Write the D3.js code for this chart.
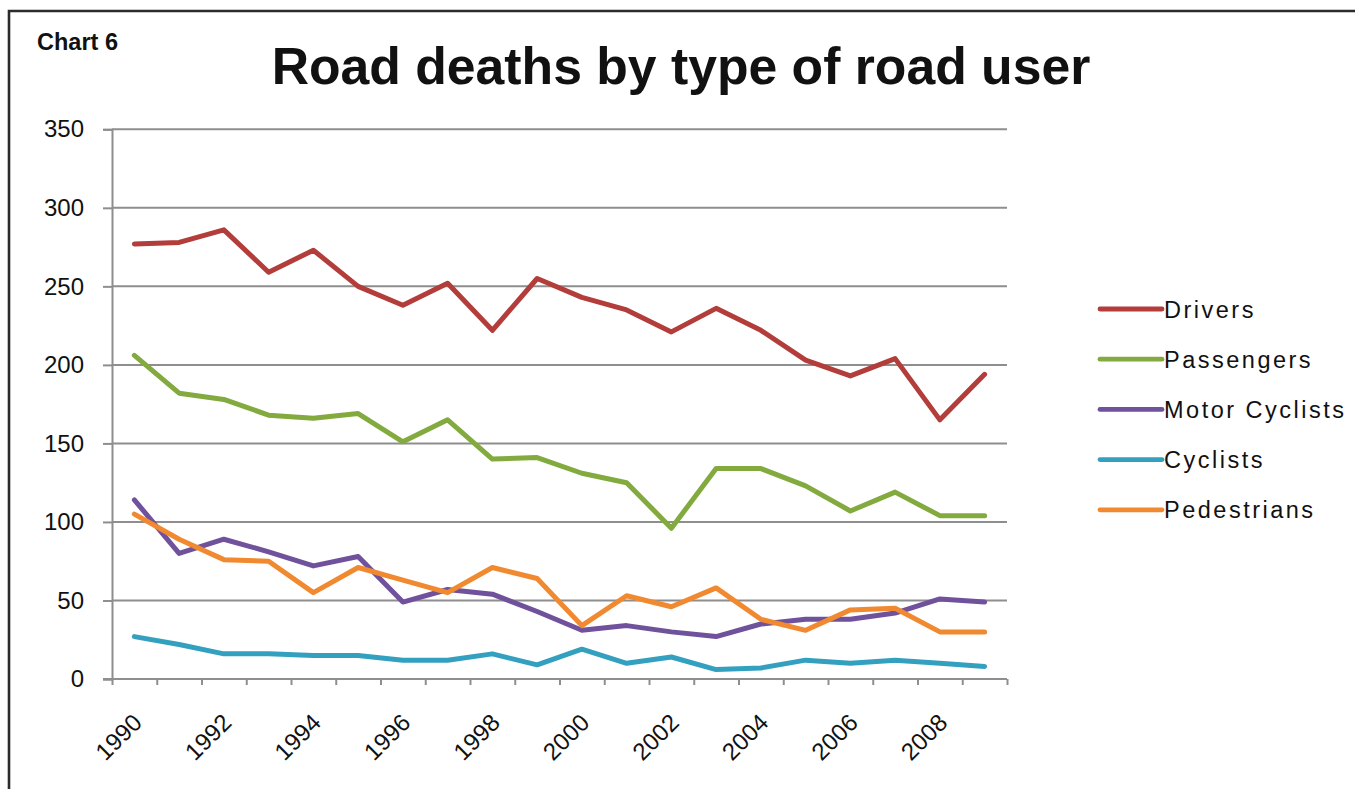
<!DOCTYPE html>
<html>
<head>
<meta charset="utf-8">
<script src="https://cdn.jsdelivr.net/npm/d3@7"></script>
<style>
  html, body { margin: 0; padding: 0; background: #fff; }
  svg { display: block; }
  text { font-family: "Liberation Sans", Arial, sans-serif; fill: #111; }
</style>
</head>
<body>
<svg id="chart" width="1355" height="789"></svg>
<script>
// Road deaths by type of road user, 1990–2009
const years = d3.range(1990, 2010).map(String);
const seriesNames = ["Drivers", "Passengers", "Motor Cyclists", "Cyclists", "Pedestrians"];
const drivers      = [277, 278, 286, 259, 273, 250, 238, 252, 222, 255, 243, 235, 221, 236, 222, 203, 193, 204, 165, 194];
const passengers   = [206, 182, 178, 168, 166, 169, 151, 165, 140, 141, 131, 125,  96, 134, 134, 123, 107, 119, 104, 104];
const motorCyclists= [114,  80,  89,  81,  72,  78,  49,  57,  54,  43,  31,  34,  30,  27,  35,  38,  38,  42,  51,  49];
const cyclists     = [ 27,  22,  16,  16,  15,  15,  12,  12,  16,   9,  19,  10,  14,   6,   7,  12,  10,  12,  10,   8];
const pedestrians  = [105,  89,  76,  75,  55,  71,  63,  55,  71,  64,  34,  53,  46,  58,  38,  31,  44,  45,  30,  30];
const yTicks = [0, 50, 100, 150, 200, 250, 300, 350];
const xLabelYears = years.filter((y, i) => i % 2 === 0);
const colors = ["#b23d3a", "#82aa3e", "#6f529b", "#34a0bf", "#f0892f"];

const seriesValues = [drivers, passengers, motorCyclists, cyclists, pedestrians];
const series = seriesNames.map((name, k) => ({ name, color: colors[k], values: seriesValues[k] }));

const svg = d3.select("#chart");

// outer frame (top and left edges visible)
svg.append("path")
  .attr("d", "M9,789 L9,11 L1355,11")
  .attr("fill", "none").attr("stroke", "#2b2b2b").attr("stroke-width", 2.6);

// headings
svg.append("text").attr("x", 37).attr("y", 50)
  .attr("font-size", 23.5).attr("font-weight", "bold").text("Chart 6");
svg.append("text").attr("x", 681).attr("y", 84)
  .attr("text-anchor", "middle").attr("font-size", 51.7).attr("font-weight", "bold")
  .text("Road deaths by type of road user");

// plot area
const plotLeft = 112, plotRight = 1007, plotTop = 129.3, plotBottom = 679;
const x = d3.scaleBand().domain(years).range([plotLeft, plotRight]).padding(0);
const xEdge = d3.scaleLinear().domain([0, years.length]).range([plotLeft, plotRight]);
const y = d3.scaleLinear().domain([0, 350]).range([plotBottom, plotTop]);

const axisColor = "#8e8e8e";

// y axis
const yAxis = svg.append("g").attr("transform", `translate(${plotLeft},0)`)
  .call(d3.axisLeft(y).tickValues(yTicks).tickSize(9).tickPadding(19).tickFormat(d3.format("d")));
yAxis.select(".domain").attr("stroke", axisColor).attr("stroke-width", 2);
yAxis.selectAll(".tick line").attr("stroke", axisColor).attr("stroke-width", 2);
yAxis.selectAll(".tick text").attr("font-size", 24).attr("fill", "#111")
  .style("font-family", "'Liberation Sans', Arial, sans-serif");

// horizontal gridlines
svg.append("g").selectAll("line").data(yTicks.filter(d => d > 0)).join("line")
  .attr("x1", plotLeft).attr("x2", plotRight)
  .attr("y1", d => y(d)).attr("y2", d => y(d))
  .attr("stroke", axisColor).attr("stroke-width", 2);

// x axis: tick marks at category boundaries
const xAxis = svg.append("g").attr("transform", `translate(0,${plotBottom})`)
  .call(d3.axisBottom(xEdge).tickValues(d3.range(years.length + 1)).tickSize(6).tickFormat(""));
xAxis.select(".domain").attr("stroke", axisColor).attr("stroke-width", 2)
  .attr("d", `M${plotLeft - 9},0H${plotRight}`);
xAxis.selectAll(".tick line").attr("stroke", axisColor).attr("stroke-width", 2);

// rotated year labels under every other category
svg.append("g").selectAll("text").data(xLabelYears).join("text")
  .attr("transform", d => `translate(${x(d) + x.bandwidth() / 2 + 9},${plotBottom + 45}) rotate(-45)`)
  .attr("text-anchor", "end").attr("font-size", 24)
  .text(d => d);

// series lines
const line = d3.line()
  .x((d, i) => x(years[i]) + x.bandwidth() / 2)
  .y(d => y(d));

svg.append("g").selectAll("path").data(series).join("path")
  .attr("d", d => line(d.values))
  .attr("fill", "none")
  .attr("stroke", d => d.color)
  .attr("stroke-width", 5)
  .attr("stroke-linejoin", "round")
  .attr("stroke-linecap", "round");

// legend
const legend = svg.append("g").selectAll("g").data(series).join("g")
  .attr("transform", (d, i) => `translate(1100,${309 + i * 50.2})`);
legend.append("line").attr("x1", 0).attr("x2", 62)
  .attr("stroke", d => d.color).attr("stroke-width", 4.8).attr("stroke-linecap", "round");
legend.append("text").attr("x", 64).attr("y", 8.5)
  .attr("font-size", 23.5).attr("letter-spacing", "2.5px")
  .text(d => d.name);
</script>
</body>
</html>
